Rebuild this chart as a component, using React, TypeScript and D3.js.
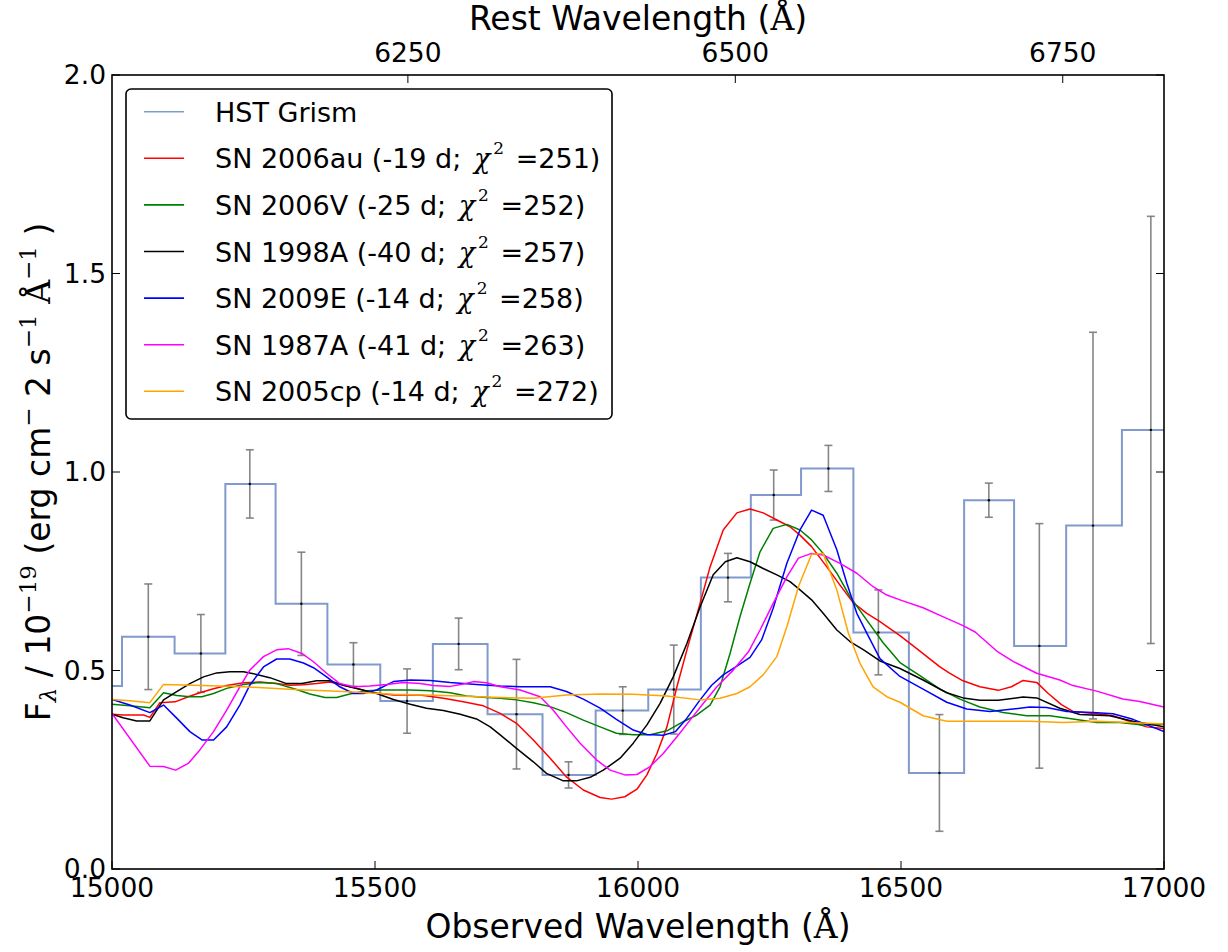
import React from 'react';
import * as d3 from 'd3';

const W = 1228;
const H = 952;
const PLOT = { left: 112, top: 75, right: 1164, bottom: 869 };

const OBS_DOMAIN = [15000, 17000];
const FLUX_DOMAIN = [0, 2];
const ONE_PLUS_Z = 2.49;
const OBS_TICKS = [15000, 15500, 16000, 16500, 17000];
const REST_TICKS = [6250, 6500, 6750];
const FLUX_TICKS = [0, 0.5, 1.0, 1.5, 2.0];

// HST grism binned spectrum (bin centres, flux, 1-sigma errors)
const HST_WAVE = [14969, 15069, 15169, 15262, 15360, 15459, 15561, 15659, 15769, 15868, 15971, 16068, 16171, 16258, 16362, 16457, 16573, 16667, 16763, 16865, 16975];
const HST_FLUX = [0.461, 0.585, 0.543, 0.970, 0.668, 0.515, 0.423, 0.567, 0.390, 0.237, 0.399, 0.452, 0.734, 0.942, 1.009, 0.596, 0.242, 0.929, 0.562, 0.865, 1.106];
const HST_ERR = [0.1, 0.133, 0.098, 0.086, 0.130, 0.055, 0.081, 0.065, 0.138, 0.033, 0.060, 0.112, 0.061, 0.063, 0.058, 0.107, 0.147, 0.043, 0.308, 0.487, 0.538];

const SN2006AU: [number, number][] = [
  [15000, 0.390], [15021, 0.388], [15060, 0.388], [15072, 0.382], [15091, 0.419], [15120, 0.421], [15145, 0.434], [15167, 0.444],
  [15193, 0.454], [15218, 0.462], [15250, 0.469], [15281, 0.471], [15313, 0.467], [15338, 0.463], [15364, 0.464], [15389, 0.467],
  [15414, 0.471], [15440, 0.463], [15465, 0.455], [15497, 0.444], [15535, 0.438], [15586, 0.438], [15630, 0.430], [15668, 0.421],
  [15706, 0.411], [15738, 0.392], [15769, 0.367], [15801, 0.325], [15833, 0.279], [15864, 0.232], [15896, 0.199], [15928, 0.180],
  [15950, 0.176], [15975, 0.182], [15998, 0.201], [16017, 0.237], [16036, 0.291], [16055, 0.358], [16074, 0.459], [16093, 0.552],
  [16118, 0.669], [16137, 0.761], [16162, 0.854], [16188, 0.897], [16213, 0.907], [16238, 0.897], [16264, 0.879], [16289, 0.862],
  [16308, 0.841], [16330, 0.812], [16359, 0.761], [16384, 0.715], [16409, 0.671], [16435, 0.644], [16460, 0.623], [16498, 0.588],
  [16536, 0.549], [16574, 0.509], [16593, 0.493], [16618, 0.474], [16650, 0.459], [16685, 0.450], [16710, 0.459], [16732, 0.475],
  [16758, 0.470], [16780, 0.442], [16805, 0.414], [16827, 0.397], [16872, 0.391], [16903, 0.386], [16941, 0.369], [16967, 0.358],
  [17000, 0.354],
];

const SN2006V: [number, number][] = [
  [15000, 0.415], [15034, 0.411], [15072, 0.406], [15098, 0.444], [15123, 0.437], [15148, 0.434], [15171, 0.434], [15193, 0.442],
  [15218, 0.455], [15250, 0.465], [15281, 0.470], [15313, 0.467], [15351, 0.452], [15376, 0.441], [15405, 0.432], [15427, 0.432],
  [15452, 0.441], [15484, 0.449], [15516, 0.451], [15567, 0.451], [15605, 0.449], [15643, 0.444], [15674, 0.436], [15712, 0.432],
  [15738, 0.430], [15769, 0.426], [15801, 0.419], [15833, 0.409], [15864, 0.394], [15896, 0.375], [15928, 0.358], [15959, 0.342],
  [15991, 0.338], [16023, 0.338], [16055, 0.348], [16086, 0.371], [16112, 0.388], [16137, 0.413], [16156, 0.459], [16175, 0.543],
  [16194, 0.636], [16213, 0.720], [16232, 0.799], [16257, 0.858], [16283, 0.868], [16308, 0.854], [16330, 0.829], [16352, 0.795],
  [16378, 0.745], [16403, 0.686], [16435, 0.627], [16466, 0.570], [16498, 0.520], [16536, 0.487], [16574, 0.453], [16612, 0.428],
  [16650, 0.408], [16694, 0.394], [16739, 0.386], [16783, 0.386], [16827, 0.378], [16872, 0.369], [16916, 0.369], [16960, 0.363],
  [17000, 0.365],
];

const SN1998A: [number, number][] = [
  [15000, 0.390], [15021, 0.381], [15047, 0.373], [15072, 0.373], [15098, 0.426], [15123, 0.447], [15148, 0.467], [15174, 0.484],
  [15199, 0.494], [15224, 0.497], [15250, 0.497], [15275, 0.490], [15300, 0.482], [15332, 0.467], [15361, 0.467], [15389, 0.474],
  [15414, 0.474], [15440, 0.463], [15471, 0.453], [15503, 0.442], [15535, 0.427], [15567, 0.415], [15598, 0.405], [15630, 0.399],
  [15662, 0.390], [15693, 0.378], [15719, 0.358], [15738, 0.338], [15769, 0.304], [15801, 0.270], [15826, 0.241], [15858, 0.222],
  [15883, 0.222], [15909, 0.231], [15934, 0.249], [15966, 0.279], [15991, 0.317], [16017, 0.363], [16042, 0.417], [16067, 0.484],
  [16093, 0.568], [16118, 0.660], [16143, 0.741], [16166, 0.774], [16188, 0.784], [16213, 0.774], [16238, 0.757], [16264, 0.741],
  [16289, 0.724], [16308, 0.703], [16330, 0.678], [16352, 0.644], [16378, 0.602], [16403, 0.573], [16429, 0.552], [16460, 0.524],
  [16498, 0.505], [16542, 0.476], [16587, 0.444], [16618, 0.431], [16650, 0.425], [16685, 0.425], [16732, 0.433], [16758, 0.431],
  [16802, 0.405], [16840, 0.389], [16897, 0.386], [16941, 0.372], [17000, 0.358],
];

const SN2009E: [number, number][] = [
  [15000, 0.427], [15034, 0.413], [15072, 0.394], [15098, 0.413], [15123, 0.380], [15148, 0.346], [15171, 0.325], [15193, 0.325],
  [15218, 0.358], [15243, 0.413], [15262, 0.463], [15288, 0.509], [15313, 0.529], [15338, 0.529], [15364, 0.519], [15383, 0.507],
  [15408, 0.484], [15433, 0.459], [15459, 0.442], [15478, 0.442], [15503, 0.451], [15535, 0.472], [15567, 0.476], [15605, 0.475],
  [15643, 0.470], [15693, 0.465], [15738, 0.461], [15776, 0.459], [15833, 0.459], [15864, 0.447], [15896, 0.428], [15928, 0.405],
  [15959, 0.377], [15991, 0.350], [16017, 0.339], [16048, 0.337], [16071, 0.346], [16093, 0.380], [16118, 0.426], [16140, 0.463],
  [16162, 0.489], [16188, 0.511], [16213, 0.533], [16235, 0.577], [16257, 0.657], [16283, 0.770], [16308, 0.854], [16330, 0.904],
  [16352, 0.891], [16378, 0.804], [16397, 0.720], [16416, 0.644], [16435, 0.594], [16460, 0.530], [16498, 0.485], [16542, 0.453],
  [16587, 0.420], [16625, 0.403], [16669, 0.397], [16713, 0.403], [16745, 0.408], [16777, 0.407], [16815, 0.397], [16865, 0.394],
  [16903, 0.391], [16941, 0.377], [17000, 0.346],
];

const SN1987A: [number, number][] = [
  [15000, 0.392], [15072, 0.259], [15098, 0.258], [15121, 0.249], [15145, 0.266], [15167, 0.300], [15193, 0.346], [15218, 0.400],
  [15243, 0.459], [15262, 0.501], [15288, 0.535], [15313, 0.552], [15335, 0.555], [15361, 0.543], [15383, 0.522], [15408, 0.493],
  [15433, 0.467], [15459, 0.459], [15490, 0.461], [15522, 0.465], [15554, 0.470], [15586, 0.467], [15611, 0.462], [15643, 0.460],
  [15668, 0.466], [15687, 0.472], [15712, 0.469], [15738, 0.459], [15776, 0.451], [15814, 0.434], [15839, 0.400], [15864, 0.358],
  [15890, 0.317], [15921, 0.275], [15947, 0.249], [15975, 0.237], [15998, 0.238], [16023, 0.258], [16048, 0.291], [16074, 0.333],
  [16099, 0.375], [16124, 0.417], [16150, 0.459], [16181, 0.501], [16210, 0.547], [16232, 0.602], [16257, 0.669], [16283, 0.736],
  [16305, 0.783], [16330, 0.795], [16352, 0.791], [16384, 0.770], [16416, 0.745], [16447, 0.711], [16473, 0.690], [16498, 0.678],
  [16542, 0.658], [16574, 0.639], [16618, 0.613], [16641, 0.597], [16682, 0.549], [16713, 0.523], [16758, 0.493], [16802, 0.476],
  [16827, 0.462], [16872, 0.448], [16922, 0.428], [16954, 0.422], [17000, 0.408],
];

const SN2005CP: [number, number][] = [
  [15000, 0.427], [15034, 0.424], [15072, 0.419], [15098, 0.465], [15155, 0.463], [15250, 0.459], [15345, 0.452], [15440, 0.447],
  [15535, 0.440], [15630, 0.437], [15738, 0.432], [15801, 0.430], [15864, 0.438], [15928, 0.441], [15991, 0.440], [16055, 0.436],
  [16118, 0.426], [16156, 0.430], [16188, 0.442], [16213, 0.459], [16238, 0.489], [16264, 0.535], [16283, 0.610], [16305, 0.711],
  [16330, 0.793], [16352, 0.795], [16378, 0.703], [16400, 0.594], [16422, 0.518], [16447, 0.459], [16473, 0.434], [16498, 0.420],
  [16542, 0.386], [16587, 0.372], [16650, 0.372], [16745, 0.372], [16808, 0.369], [16872, 0.372], [16935, 0.369], [17000, 0.365],
];

const MODEL_NAMES = ['SN 2006au', 'SN 2006V', 'SN 1998A', 'SN 2009E', 'SN 1987A', 'SN 2005cp'];
const MODEL_PHASES = ['-19 d', '-25 d', '-40 d', '-14 d', '-41 d', '-14 d'];
const MODEL_CHI2 = [251, 252, 257, 258, 263, 272];
const MODEL_DATA = [SN2006AU, SN2006V, SN1998A, SN2009E, SN1987A, SN2005CP];
const MODEL_COLORS = ['#ff0000', '#008000', '#000000', '#0000ff', '#ff00ff', '#ffa500'];
const HST_COLOR = '#6a88c4';

const SANS = '"DejaVu Sans", sans-serif';
const SERIF = '"DejaVu Serif", serif';

export default function App() {
  const x = d3.scaleLinear().domain(OBS_DOMAIN).range([PLOT.left, PLOT.right]);
  const xRest = d3
    .scaleLinear()
    .domain([OBS_DOMAIN[0] / ONE_PLUS_Z, OBS_DOMAIN[1] / ONE_PLUS_Z])
    .range([PLOT.left, PLOT.right]);
  const y = d3.scaleLinear().domain(FLUX_DOMAIN).range([PLOT.bottom, PLOT.top]);
  const line = d3
    .line<[number, number]>()
    .x((d) => x(d[0]))
    .y((d) => y(d[1]));

  // step (mid) points for the HST spectrum
  const n = HST_WAVE.length;
  const stepPts: [number, number][] = [];
  for (let i = 0; i < n; i++) {
    const lo = i === 0 ? HST_WAVE[0] - (HST_WAVE[1] - HST_WAVE[0]) / 2 : (HST_WAVE[i - 1] + HST_WAVE[i]) / 2;
    const hi = i === n - 1 ? HST_WAVE[i] + (HST_WAVE[i] - HST_WAVE[i - 1]) / 2 : (HST_WAVE[i] + HST_WAVE[i + 1]) / 2;
    stepPts.push([lo, HST_FLUX[i]]);
    stepPts.push([hi, HST_FLUX[i]]);
  }

  const tickLen = 8;
  const legendX = 126;
  const legendY = 89;
  const legendW = 486;
  const legendH = 330;
  const rowY0 = 111.7;
  const rowDy = 46.6;

  const legendRows = [
    { color: HST_COLOR, label: 'HST Grism', model: false, idx: -1 },
    ...MODEL_NAMES.map((nm, i) => ({ color: MODEL_COLORS[i], label: nm, model: true, idx: i })),
  ];

  return (
    <svg width={W} height={H} style={{ position: 'absolute', left: 0, top: 0, background: '#fff' }}>
      <defs>
        <clipPath id="plotclip">
          <rect x={PLOT.left} y={PLOT.top} width={PLOT.right - PLOT.left} height={PLOT.bottom - PLOT.top} />
        </clipPath>
      </defs>
      <rect x={0} y={0} width={W} height={H} fill="#fff" />

      <g clipPath="url(#plotclip)">
        <path d={line(stepPts) || ''} fill="none" stroke={HST_COLOR} strokeOpacity={0.85} strokeWidth={2} />
        {HST_WAVE.map((w, i) => {
          const cx = x(w);
          const y1 = y(HST_FLUX[i] + HST_ERR[i]);
          const y0 = y(HST_FLUX[i] - HST_ERR[i]);
          return (
            <g key={i} stroke="#7a7a7a" strokeOpacity={0.9} strokeWidth={1.6}>
              <line x1={cx} x2={cx} y1={y1} y2={y0} />
              <line x1={cx - 4} x2={cx + 4} y1={y1} y2={y1} />
              <line x1={cx - 4} x2={cx + 4} y1={y0} y2={y0} />
              <circle cx={cx} cy={y(HST_FLUX[i])} r={1.2} fill="#000" stroke="none" />
            </g>
          );
        })}
        {MODEL_DATA.map((data, i) => (
          <path key={i} d={line(data) || ''} fill="none" stroke={MODEL_COLORS[i]} strokeWidth={1.5} strokeLinejoin="round" />
        ))}
      </g>

      {/* frame */}
      <rect
        x={PLOT.left}
        y={PLOT.top}
        width={PLOT.right - PLOT.left}
        height={PLOT.bottom - PLOT.top}
        fill="none"
        stroke="#000"
        strokeWidth={1.6}
      />

      {/* bottom ticks (observed) */}
      {OBS_TICKS.map((t) => (
        <g key={'b' + t}>
          <line x1={x(t)} x2={x(t)} y1={PLOT.bottom} y2={PLOT.bottom - tickLen} stroke="#000" strokeWidth={1} />
          <text x={x(t)} y={897} textAnchor="middle" fontFamily={SANS} fontSize={26.5} fill="#000">
            {t}
          </text>
        </g>
      ))}

      {/* top ticks (rest) */}
      {REST_TICKS.map((t) => (
        <g key={'t' + t}>
          <line x1={xRest(t)} x2={xRest(t)} y1={PLOT.top} y2={PLOT.top + tickLen} stroke="#000" strokeWidth={1} />
          <text x={xRest(t)} y={62} textAnchor="middle" fontFamily={SANS} fontSize={26.5} fill="#000">
            {t}
          </text>
        </g>
      ))}

      {/* y ticks */}
      {FLUX_TICKS.map((t) => (
        <g key={'y' + t}>
          <line x1={PLOT.left} x2={PLOT.left + tickLen} y1={y(t)} y2={y(t)} stroke="#000" strokeWidth={1} />
          <line x1={PLOT.right} x2={PLOT.right - tickLen} y1={y(t)} y2={y(t)} stroke="#000" strokeWidth={1} />
          <text x={106} y={y(t) + 9} textAnchor="end" fontFamily={SANS} fontSize={26.5} fill="#000">
            {t.toFixed(1)}
          </text>
        </g>
      ))}

      {/* axis labels */}
      <text x={(PLOT.left + PLOT.right) / 2} y={938} textAnchor="middle" fontFamily={SANS} fontSize={33} fill="#000">
        Observed Wavelength (<tspan fontFamily={SERIF}>Å</tspan>)
      </text>
      <text x={(PLOT.left + PLOT.right) / 2} y={30} textAnchor="middle" fontFamily={SANS} fontSize={33} fill="#000">
        Rest Wavelength (<tspan fontFamily={SERIF}>Å</tspan>)
      </text>
      <text
        transform={`translate(50, ${(PLOT.top + PLOT.bottom) / 2}) rotate(-90)`}
        textAnchor="middle"
        fontFamily={SANS}
        fontSize={33}
        fill="#000"
      >
        F
        <tspan fontFamily={SERIF} fontStyle="italic" fontSize={23} dy={6}>λ</tspan>
        <tspan dy={-6}> / 10</tspan>
        <tspan fontFamily={SERIF} fontSize={23} dy={-14}>−19</tspan>
        <tspan dy={14}> (erg cm</tspan>
        <tspan fontFamily={SERIF} fontSize={23} dy={-14}>−</tspan>
        <tspan dy={14}> 2 s</tspan>
        <tspan fontFamily={SERIF} fontSize={23} dy={-14}>−1</tspan>
        <tspan dy={14}> </tspan>
        <tspan fontFamily={SERIF}>Å</tspan>
        <tspan fontFamily={SERIF} fontSize={23} dy={-14}>−1</tspan>
        <tspan dy={14}> )</tspan>
      </text>

      {/* legend */}
      <rect x={legendX} y={legendY} width={legendW} height={legendH} rx={5} ry={5} fill="#fff" stroke="#000" strokeWidth={1.6} />
      {legendRows.map((r, i) => {
        const cy = rowY0 + i * rowDy;
        return (
          <g key={'l' + i}>
            <line x1={144} x2={184} y1={cy} y2={cy} stroke={r.color} strokeWidth={1.6} strokeOpacity={r.model ? 1 : 0.85} />
            {r.model ? (
              <text x={215} y={cy + 10} fontFamily={SANS} fontSize={27} fill="#000">
                {`${r.label} (${MODEL_PHASES[r.idx]}; `}
                <tspan fontFamily={SERIF} fontStyle="italic" dx={4}>χ</tspan>
                <tspan fontFamily={SERIF} fontSize={17} dx={3} dy={-14}>2</tspan>
                <tspan dx={3} dy={14}>{` =${MODEL_CHI2[r.idx]})`}</tspan>
              </text>
            ) : (
              <text x={215} y={cy + 10} fontFamily={SANS} fontSize={27} fill="#000">
                {r.label}
              </text>
            )}
          </g>
        );
      })}
    </svg>
  );
}
